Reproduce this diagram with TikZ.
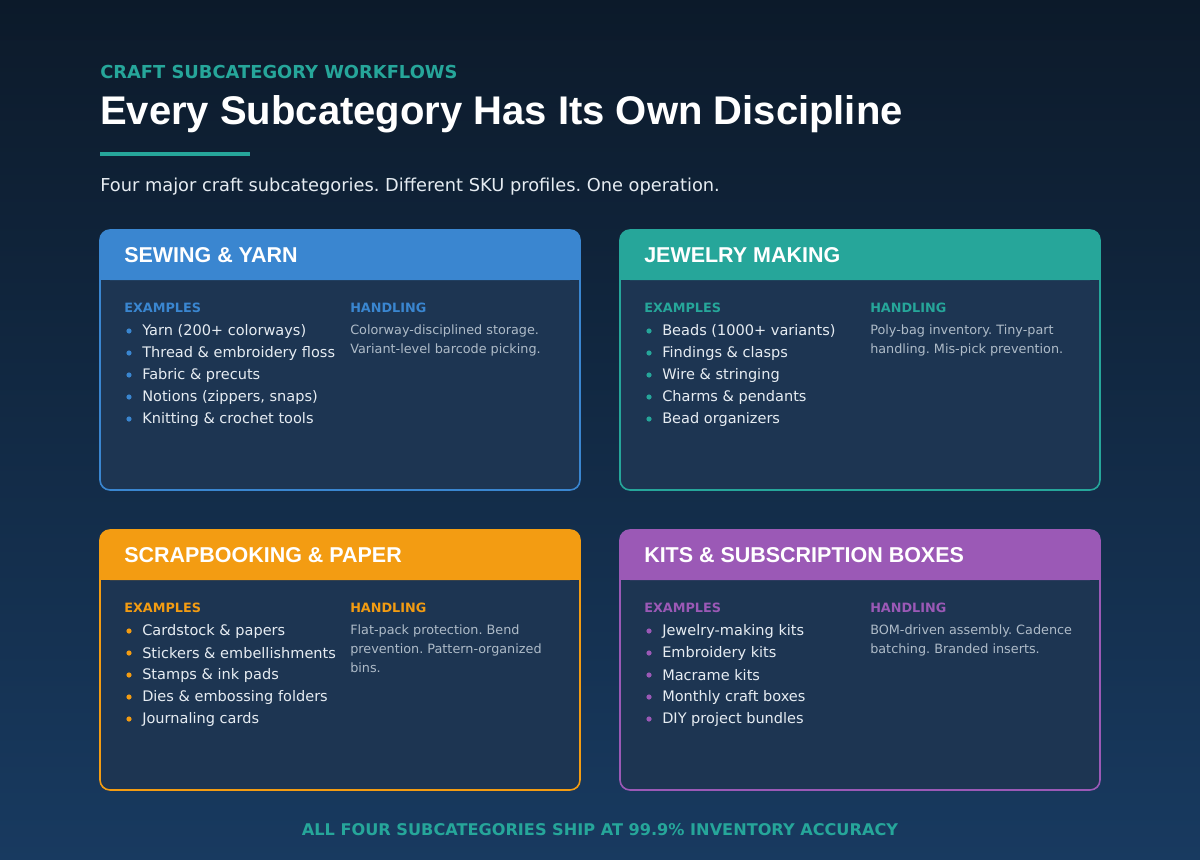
\documentclass[tikz,border=0pt]{standalone}
\usepackage{fontspec}
\setmainfont{DejaVu Sans}
\newfontfamily\headfont{Liberation Sans}
\frenchspacing
\definecolor{bgtop}{HTML}{0C1A2A}
\definecolor{bgbot}{HTML}{183A60}
\definecolor{cardfill}{HTML}{1D3552}
\definecolor{cblue}{HTML}{3A86D0}
\definecolor{cteal}{HTML}{26A69A}
\definecolor{corange}{HTML}{F39C12}
\definecolor{cpurple}{HTML}{9B59B6}
\definecolor{itemtxt}{HTML}{E6ECF2}
\definecolor{handtxt}{HTML}{AEBBC8}
\tikzset{
  lbl/.style={anchor=west,inner sep=0pt},
  item/.style={lbl,text=itemtxt,font=\fontsize{10.9}{13}\selectfont},
  hand/.style={lbl,anchor=north west,text=handtxt,font=\fontsize{9.6}{14.2}\selectfont,align=left},
  sect/.style={lbl,font=\bfseries\fontsize{9.6}{12}\selectfont},
  htitle/.style={lbl,text=white,font=\headfont\bfseries\fontsize{16.1}{18}\selectfont},
}
\newcommand{\mkcard}[7]{%
  \begin{scope}[shift={(#1,#2)}]
    \draw[#3,line width=1.2pt,fill=cardfill,rounded corners=7.5pt] (0,0) rectangle (480,260);
    \fill[#3,rounded corners=7.5pt] (0,0) rectangle (480,50);
    \fill[#3] (0,25) rectangle (480,50);
    \node[htitle] (#7t) at (24,25) {#4};
    \node[sect,text=#3] (#7e) at (24,78) {EXAMPLES};
    \node[sect,text=#3] (#7h) at (250,78) {HANDLING};
    \foreach \txt [count=\i] in {#5} {
      \fill[#3] (29,79+22*\i) circle (2.6);
      \node[item] at (42,79+22*\i) {\txt};
    }
    \node[hand] (#7x) at (250,95) {#6};
  \end{scope}}
\begin{document}
\begin{tikzpicture}[x=0.75pt,y=-0.75pt]
\shade[top color=bgtop,bottom color=bgbot] (0,0) rectangle (1200,860);
\useasboundingbox (0,0) rectangle (1200,860);
\node[lbl,text=cteal,font=\bfseries\fontsize{13.4}{15}\selectfont] (kick) at (100,72) {CRAFT SUBCATEGORY WORKFLOWS};
\node[lbl,text=white,font=\headfont\bfseries\fontsize{30}{34}\selectfont] (title) at (100,114) {Every Subcategory Has Its Own Discipline};
\fill[cteal] (100,152) rectangle (250,156);
\node[lbl,text=itemtxt,font=\fontsize{13.35}{16}\selectfont] (sub) at (100,187) {Four major craft subcategories. Different SKU profiles. One operation.};
\mkcard{100}{230}{cblue}{SEWING \& YARN}{Yarn (200+ colorways),Thread \& embroidery floss,Fabric \& precuts,{Notions (zippers, snaps)},Knitting \& crochet tools}{Colorway-disciplined storage.\\Variant-level barcode picking.}{a}
\mkcard{620}{230}{cteal}{JEWELRY MAKING}{Beads (1000+ variants),Findings \& clasps,Wire \& stringing,Charms \& pendants,Bead organizers}{Poly-bag inventory. Tiny-part\\handling. Mis-pick prevention.}{b}
\mkcard{100}{530}{corange}{SCRAPBOOKING \& PAPER}{Cardstock \& papers,Stickers \& embellishments,Stamps \& ink pads,Dies \& embossing folders,Journaling cards}{Flat-pack protection. Bend\\prevention. Pattern-organized\\bins.}{c}
\mkcard{620}{530}{cpurple}{KITS \& SUBSCRIPTION BOXES}{Jewelry-making kits,Embroidery kits,Macrame kits,Monthly craft boxes,DIY project bundles}{BOM-driven assembly. Cadence\\batching. Branded inserts.}{d}
\node[text=cteal,font=\bfseries\fontsize{12.1}{14}\selectfont,inner sep=0pt] (foot) at (600,830) {ALL FOUR SUBCATEGORIES SHIP AT 99.9\% INVENTORY ACCURACY};
\end{tikzpicture}
\end{document}
